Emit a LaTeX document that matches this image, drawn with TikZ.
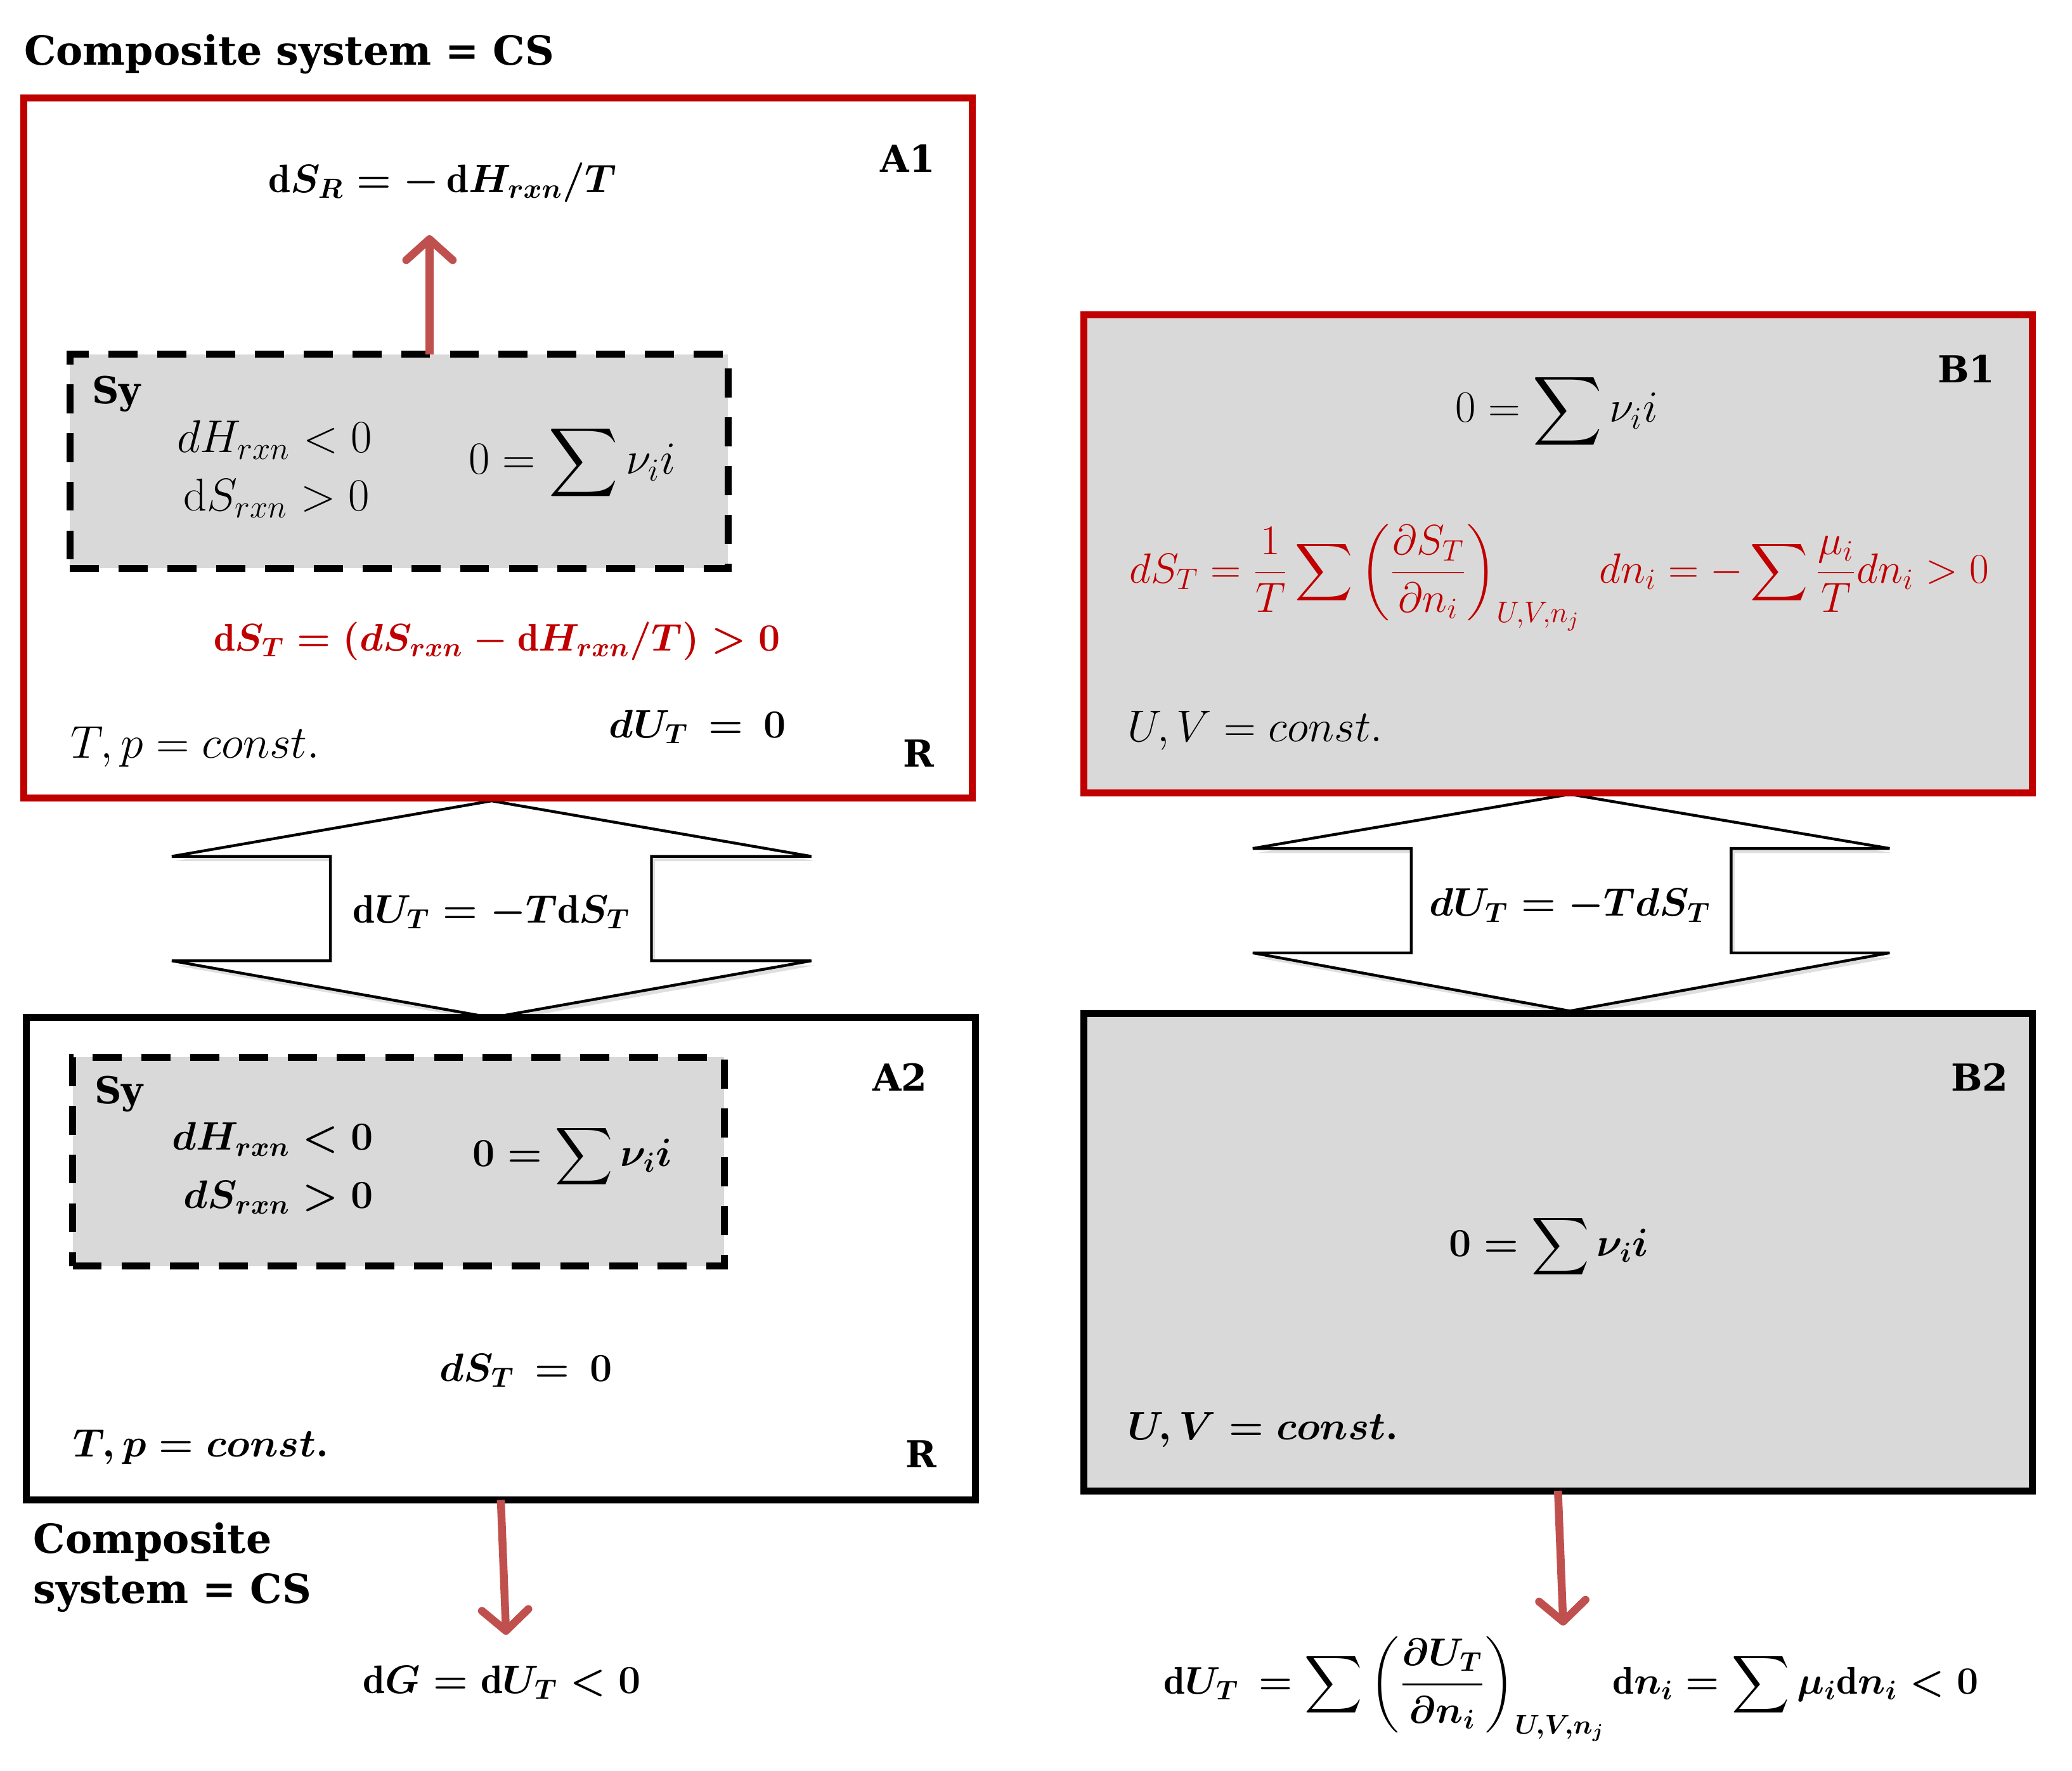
\RequirePackage{fix-cm}
\documentclass[tikz,border=0pt]{standalone}
\usepackage{amsmath}
\usepackage{fontspec}
\newfontfamily\lblfont{DejaVu Serif}
\usetikzlibrary{arrows.meta,shadows}
\definecolor{boxred}{HTML}{C00000}
\definecolor{arrred}{HTML}{C0504D}
\definecolor{fillgray}{HTML}{D9D9D9}
\begin{document}
\begin{tikzpicture}[x=0.02cm,y=-0.02cm,
  font=\fontsize{16}{19}\selectfont,
  boxbase/.style={inner sep=0pt, outer sep=0pt, line width=3pt},
  redbox/.style={boxbase, draw=boxred},
  blackbox/.style={boxbase, draw=black},
  graybox/.style={fill=fillgray},
  sybox/.style={boxbase, draw=black, fill=fillgray, dash pattern=on 12.5pt off 8.5pt},
  lbl/.style={font=\fontsize{16}{19}\selectfont\lblfont\bfseries, inner sep=0pt},
  ttl/.style={font=\fontsize{17.3}{21.6}\selectfont\lblfont\bfseries, inner sep=0pt},
  mb/.style={font=\fontsize{17.1}{20}\selectfont\boldmath, inner sep=0pt},
  mbs/.style={font=\fontsize{16.6}{20}\selectfont\boldmath, inner sep=0pt},
  mr/.style={font=\fontsize{19.8}{23}\selectfont, inner sep=0pt},
  mc/.style={font=\fontsize{19.2}{23}\selectfont, inner sep=0pt},
  mq/.style={font=\fontsize{18.2}{22}\selectfont, inner sep=0pt},
  redtxt/.style={text=boxred},
  dblarrow/.style={draw=black, line width=1.2pt, fill=white, line join=miter,
     drop shadow={opacity=0.25, shadow xshift=1.5pt, shadow yshift=-2pt}},
  heatarrow/.style={draw=arrred, line width=3.4pt,
     -{Straight Barb[length=9pt,width=20pt,round]}}
]
\useasboundingbox (0,0) rectangle (1568,1340);

% ---------- double arrows ----------
\draw[dblarrow] (372,606) -- (614,648) -- (493,648) -- (493,727) -- (614,727)
  -- (372,770) -- (130,727) -- (250,727) -- (250,648) -- (130,648) -- cycle;
\draw[dblarrow] (1188,601) -- (1430,642) -- (1310,642) -- (1310,721) -- (1430,721)
  -- (1188,765) -- (948,721) -- (1068,721) -- (1068,642) -- (948,642) -- cycle;

% ---------- title ----------
\node[ttl, anchor=west] (title) at (18,41) {Composite system = CS};

% ---------- A1 ----------
\node[redbox, fill=white, minimum width=718*0.02cm, minimum height=530*0.02cm] (a1) at (377,339) {};
\node[sybox, minimum width=498*0.02cm, minimum height=162*0.02cm] (sy1) at (302,349) {};
\node[lbl] (a1lbl) at (687,120) {A1};
\node[mb] (dsr) at (335,138) {$\mathrm{d}S_R = -\,\mathrm{d}H_{rxn}/T$};
\node[lbl] (sy1lbl) at (88,298) {Sy};
\node[mr, anchor=east] (dh1) at (282,333) {$dH_{rxn} < 0$};
\node[mr, anchor=east] (ds1) at (280,377) {$\mathrm{d}S_{rxn} > 0$};
\node[mr] (sum1) at (433,350) {$\displaystyle 0 = \sum \nu_i i$};
\node[mbs, redtxt] (dst1) at (376,485) {$\mathrm{d}S_T = (dS_{rxn} - \mathrm{d}H_{rxn}/T) > 0$};
\node[mr, anchor=west] (tp1) at (53,565) {$T,p = const.$};
\node[mb] (du1) at (528,550) {$dU_T \,=\, 0$};
\node[lbl] (r1) at (695,570) {R};

\coordinate (a1tip) at (325,178);
\draw[heatarrow] (sy1.north -| a1tip) -- (a1tip);

% ---------- A2 ----------
\node[blackbox, fill=white, minimum width=718*0.02cm, minimum height=365*0.02cm] (a2) at (379,952.5) {};
\node[sybox, minimum width=493*0.02cm, minimum height=158*0.02cm] (sy2) at (301.5,879) {};
\node[lbl] (a2lbl) at (681,815) {A2};
\node[lbl] (sy2lbl) at (90,828) {Sy};
\node[mb, anchor=east] (dh2) at (283,862) {$dH_{rxn} < 0$};
\node[mb, anchor=east] (ds2) at (283,906) {$dS_{rxn} > 0$};
\node[mb] (sum2) at (433,875) {$\displaystyle 0 = \sum \nu_i i$};
\node[mb] (dst2) at (398,1037) {$dS_T \,=\, 0$};
\node[mb, anchor=west] (tp2) at (55,1095) {$T,p = const.$};
\node[lbl] (r2) at (697,1100) {R};
\node[ttl, anchor=west, align=left] (title2) at (25,1186) {Composite\\system = CS};

\node[mb] (dbla) at (372,690) {$\mathrm{d}U_T = -T\mathrm{d}S_T$};

\coordinate (a2tip) at (383,1237);
\draw[heatarrow] (a2.south) -- (a2tip);
\node[mb] (dg) at (380,1273) {$\mathrm{d}G = \mathrm{d}U_T < 0$};

% ---------- B1 ----------
\node[redbox, graybox, minimum width=718*0.02cm, minimum height=362*0.02cm] (b1) at (1179,419) {};
\node[lbl] (b1lbl) at (1488,279) {B1};
\node[mc] (sumb1) at (1178,311) {$\displaystyle 0 = \sum \nu_i i$};
\node[mq, redtxt] (dstb1) at (1180,437) {$\displaystyle dS_T = \frac{1}{T}\sum\left(\frac{\partial S_T}{\partial n_i}\right)_{U,V,n_j}\; dn_i = -\sum\frac{\mu_i}{T}dn_i > 0$};
\node[mc, anchor=west] (uvb1) at (853,553) {$U,V = const.$};

\node[mb] (dblb) at (1188,685) {$dU_T = -TdS_T$};

% ---------- B2 ----------
\node[blackbox, graybox, minimum width=718*0.02cm, minimum height=361*0.02cm] (b2) at (1179,947.5) {};
\node[lbl] (b2lbl) at (1498,815) {B2};
\node[mb] (sumb2) at (1172,943) {$\displaystyle 0 = \sum \nu_i i$};
\node[mb, anchor=west] (uvb2) at (853,1082) {$U,V = const.$};

\coordinate (b2tip) at (1183,1230);
\draw[heatarrow] (b2.south) -- (b2tip);
\node[mbs] (dub2) at (1189,1278) {$\displaystyle \mathrm{d}U_T \,= \sum\left(\frac{\partial U_T}{\partial n_i}\right)_{U,V,n_j} \mathrm{d}n_i = \sum \mu_i \mathrm{d}n_i < 0$};
\end{tikzpicture}
\end{document}
